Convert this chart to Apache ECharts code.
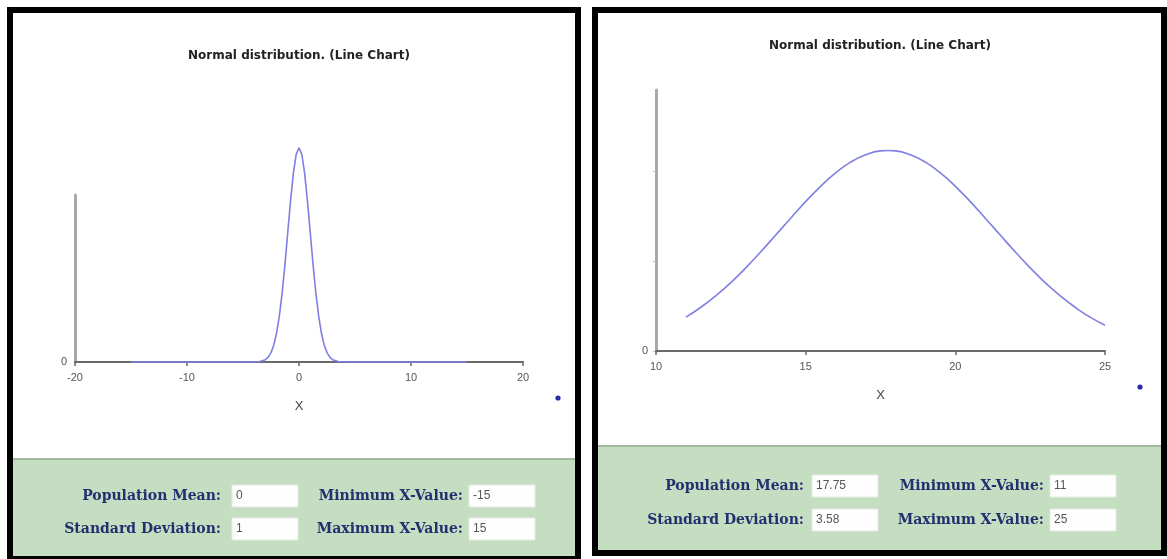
<!DOCTYPE html>
<html>
<head>
<meta charset="utf-8">
<script src="https://cdn.jsdelivr.net/npm/echarts@6/dist/echarts.min.js"></script>
<style>
html,body{margin:0;padding:0;background:#fff;}
#c{width:1167px;height:559px;}
</style>
</head>
<body>
<div id="c"></div>
<script>
// ---- data ----
var chartTitle = 'Normal distribution. (Line Chart)';
var axisName = 'X';

// left panel: mean 0, sd 1, x from -15 to 15
var leftX = [-15, -4, -3.5, -3, -2.75, -2.5, -2.25, -2, -1.75, -1.5, -1.25, -1, -0.75, -0.5, -0.25, 0,
             0.25, 0.5, 0.75, 1, 1.25, 1.5, 1.75, 2, 2.25, 2.5, 2.75, 3, 3.5, 4, 15];
var leftY = [0, 0.0001, 0.0009, 0.0044, 0.0091, 0.0175, 0.0317, 0.0540, 0.0863, 0.1295, 0.1826, 0.2420, 0.3011, 0.3521, 0.3867, 0.3989,
             0.3867, 0.3521, 0.3011, 0.2420, 0.1826, 0.1295, 0.0863, 0.0540, 0.0317, 0.0175, 0.0091, 0.0044, 0.0009, 0.0001, 0];
var leftXTicks = [-20, -10, 0, 10, 20];

// right panel: mean 17.75, sd 3.58, x from 11 to 25
var rightX = [11, 11.5, 12, 12.5, 13, 13.5, 14, 14.5, 15, 15.5, 16, 16.5, 17, 17.5, 17.75,
              18, 18.5, 19, 19.5, 20, 20.5, 21, 21.5, 22, 22.5, 23, 23.5, 24, 24.5, 25];
var rightY = [0.0188, 0.0243, 0.0307, 0.0380, 0.0462, 0.0551, 0.0644, 0.0738, 0.0830, 0.0915, 0.0989, 0.1049, 0.1090, 0.1112, 0.1114,
              0.1112, 0.1090, 0.1049, 0.0989, 0.0915, 0.0830, 0.0738, 0.0644, 0.0551, 0.0462, 0.0380, 0.0307, 0.0243, 0.0188, 0.0143];
var rightXTicks = [10, 15, 20, 25];

// form fields
var formLabels = ['Population Mean:', 'Minimum X-Value:', 'Standard Deviation:', 'Maximum X-Value:'];
var leftForm = ['0', '-15', '1', '15'];
var rightForm = ['17.75', '11', '3.58', '25'];

function pairs(xs, ys){ return xs.map(function(x,i){ return [x, ys[i]]; }); }

var chart = echarts.init(document.getElementById('c'), null, {renderer:'canvas'});

var curveColor = '#7f7fe4';
var tickFont = {fontFamily:'Liberation Sans', fontSize:11, color:'#555'};

function xAx(idx, min, max, interval, ticks){
  return {
    type:'value', gridIndex:idx, min:min, max:max, interval:interval,
    name: axisName, nameLocation:'middle', nameGap:38,
    nameTextStyle:{fontFamily:'Liberation Sans', fontSize:13, color:'#444'},
    axisLine:{show:true, onZero:false, lineStyle:{color:'#6a6a6a', width:2}},
    axisTick:{show:true, length:4, lineStyle:{color:'#6a6a6a', width:1.5}},
    axisLabel:Object.assign({margin:10, formatter:function(v){ return ticks.indexOf(v)>=0 ? String(v) : ''; }}, tickFont),
    splitLine:{show:false}
  };
}
function yAx(idx, max, interval, showTick){
  return {
    type:'value', gridIndex:idx, min:0, max:max, interval:interval,
    axisLine:{show:true, onZero:false, lineStyle:{color:'#a8a8a8', width:3}},
    axisTick:{show:showTick, length:3, lineStyle:{color:'#bbb'}},
    axisLabel:Object.assign({margin:8, showMaxLabel:false, formatter:function(v){ return v===0 ? '0' : ''; }}, tickFont),
    splitLine:{show:false}
  };
}

var graphics = [];
// panel borders & green areas
function panel(x0, y0, x1, y1, greenTop){
  graphics.push({type:'rect', shape:{x:x0, y:y0, width:x1-x0, height:y1-y0}, style:{fill:'#000'}, z:-10});
  graphics.push({type:'rect', shape:{x:x0+6, y:y0+6, width:x1-x0-12, height:y1-y0-12}, style:{fill:'#fff'}, z:-9});
  graphics.push({type:'rect', shape:{x:x0+6, y:greenTop, width:x1-x0-12, height:y1-6-greenTop}, style:{fill:'#c5ddc1'}, z:-8});
  graphics.push({type:'rect', shape:{x:x0+6, y:greenTop-1, width:x1-x0-12, height:2}, style:{fill:'#a3b79e'}, z:-7});
}
panel(7, 7, 581, 562, 459);
panel(592, 7, 1167, 556, 446);

function titleText(cx, cy){
  graphics.push({type:'text', x:cx, y:cy, style:{text:chartTitle, font:'bold 12px "DejaVu Sans"', fill:'#222', textAlign:'center', textVerticalAlign:'middle'}, z:5});
}
titleText(299, 56);
titleText(880, 46);

function dot(x, y){
  graphics.push({type:'circle', shape:{cx:x, cy:y, r:2.6}, style:{fill:'#2a2aa8'}, z:5});
}
dot(558, 398);
dot(1140, 387);

function form(vals, labRight1, inX1, labRight2, inX2, row1, row2){
  var rows = [row1, row1, row2, row2];
  var labX = [labRight1, labRight2, labRight1, labRight2];
  var inX = [inX1, inX2, inX1, inX2];
  for (var i=0;i<4;i++){
    graphics.push({type:'text', x:labX[i], y:rows[i], style:{text:formLabels[i], font:'bold 14px "DejaVu Serif"', fill:'#233070', textAlign:'right', textVerticalAlign:'middle'}, z:5});
    graphics.push({type:'rect', shape:{x:inX[i], y:rows[i]-11, width:66, height:22}, style:{fill:'#fdfefd', stroke:'#e4ede2', lineWidth:1}, z:4});
    graphics.push({type:'text', x:inX[i]+4, y:rows[i], style:{text:vals[i], font:'12px "Liberation Sans"', fill:'#555', textAlign:'left', textVerticalAlign:'middle'}, z:5});
  }
}
form(leftForm, 221, 232, 463, 469, 496, 529);
form(rightForm, 804, 812, 1044, 1050, 486, 520);

var option = {
  animation:false,
  backgroundColor:'#fff',
  grid:[
    {left:75, top:195, width:448, height:167, containLabel:false},
    {left:656, top:90, width:449, height:261, containLabel:false}
  ],
  xAxis:[ xAx(0, -20, 20, 10, leftXTicks), xAx(1, 10, 25, 5, rightXTicks) ],
  yAxis:[ yAx(0, 0.311, 0.311, false), yAx(1, 0.145, 0.05, true) ],
  series:[
    {type:'line', xAxisIndex:0, yAxisIndex:0, data:pairs(leftX, leftY), showSymbol:false, clip:false,
     lineStyle:{color:curveColor, width:1.6}, z:3},
    {type:'line', xAxisIndex:1, yAxisIndex:1, data:pairs(rightX, rightY), showSymbol:false, smooth:true, clip:false,
     lineStyle:{color:curveColor, width:1.6}, z:3}
  ],
  graphic: graphics
};
chart.setOption(option);
</script>
</body>
</html>
